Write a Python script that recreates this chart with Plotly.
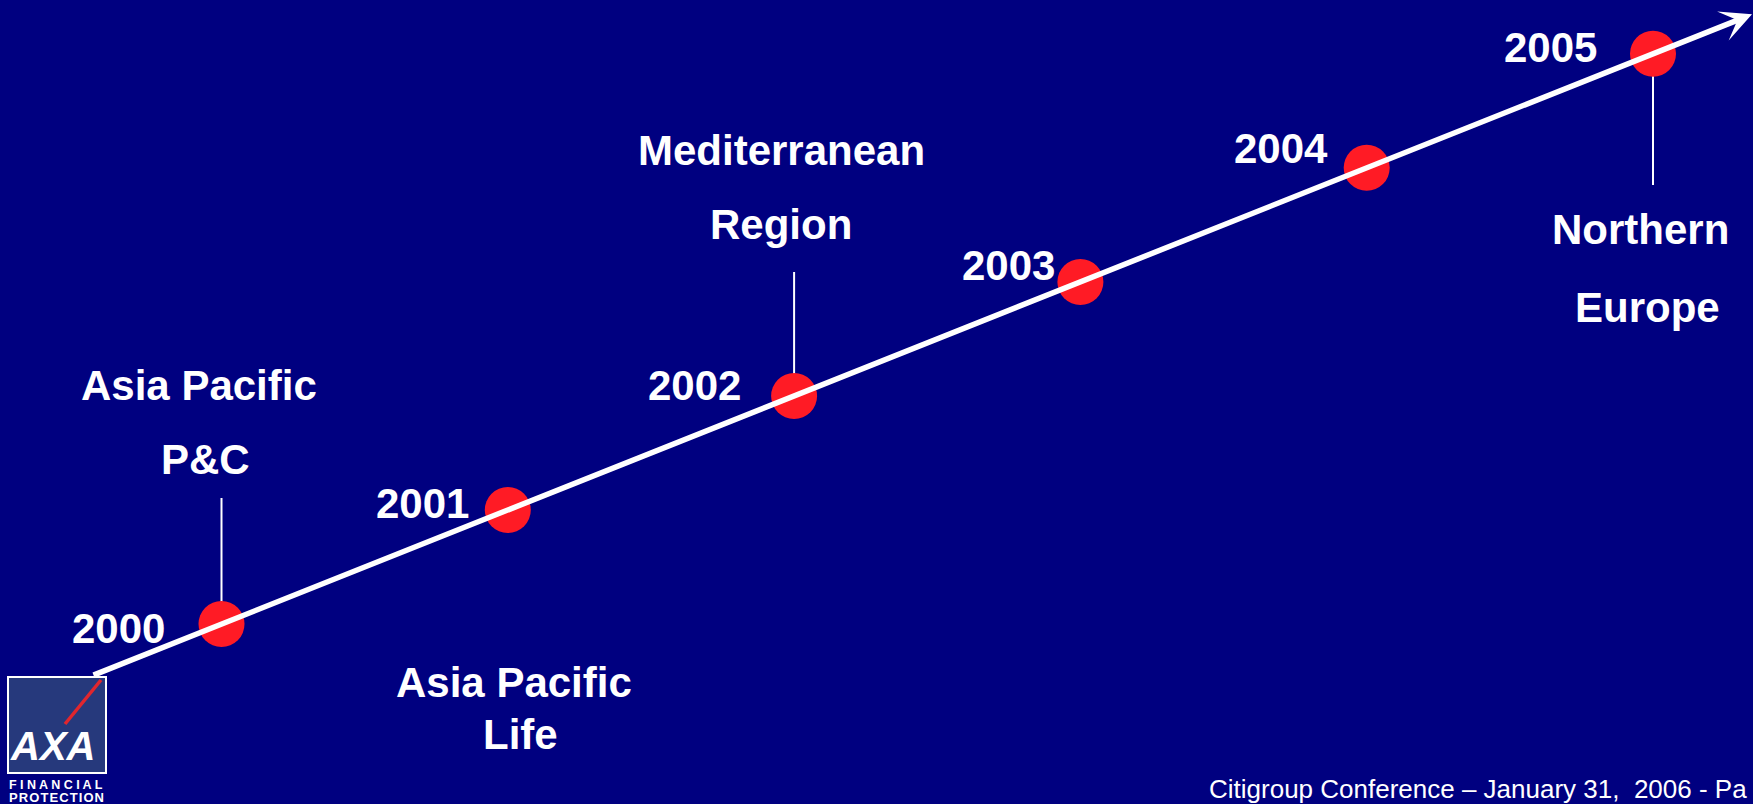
import plotly.graph_objects as go

# ---------------- data ----------------
years = [2000, 2001, 2002, 2003, 2004, 2005]
year_labels = ["2000", "2001", "2002", "2003", "2004", "2005"]

milestone_years = [2000, 2001, 2002, 2005]
milestone_lines = [
    ["Asia Pacific", "P&C"],
    ["Asia Pacific", "Life"],
    ["Mediterranean", "Region"],
    ["Northern", "Europe"],
]

footer_text = "Citigroup Conference \u2013 January 31,  2006 - Pa"

# ---------------- layout constants ----------------
W, H = 1753, 804
BG = "#000080"
RED = "#ff1b25"
FONT = "Liberation Sans, Arial, sans-serif"

X2000, XSTEP = 221.5, 286.3     # pixel of year 2000 and pixels per year (x)
Y2000, YSTEP = 624.1, 114.06    # pixel of year 2000 and pixels per year (y, upward)

xr = [2000 - X2000 / XSTEP, 2000 + (W - X2000) / XSTEP]
yr = [2000 - (H - Y2000) / YSTEP, 2000 + Y2000 / YSTEP]


def dx(px):
    return 2000 + (px - X2000) / XSTEP


def dy(py):
    return 2000 + (Y2000 - py) / YSTEP


def pxp(px):
    return px / W


def pyp(py):
    return 1 - py / H


# year label positions (pixel centres)
year_pos = [(118, 628), (422, 503), (694, 385), (1009, 265), (1281, 149), (1550, 48)]
# milestone text line positions (pixel centres)
milestone_pos = [
    [(199, 385), (205, 459)],
    [(514, 682), (520, 734)],
    [(781, 150), (781, 225)],
    [(1640, 230), (1647, 307)],
]
# connector far ends (pixel y) ; None = no connector
connector_end = [498, None, 272, 185]

fig = go.Figure()

fig.add_trace(go.Scatter(
    x=years, y=years, mode="markers",
    marker=dict(size=46, color=RED, line=dict(width=0)),
    hoverinfo="skip", showlegend=False,
))

annotations = []
shapes = []

# timeline arrow
t_start = dx(92)
t_end = dx(1752)
annotations.append(dict(
    x=t_end, y=t_end, ax=t_start, ay=t_start,
    xref="x", yref="y", axref="x", ayref="y",
    text="", showarrow=True, arrowhead=3, arrowsize=0.95,
    arrowwidth=5.5, arrowcolor="white", standoff=0, startstandoff=0,
))

# year labels
for lab, (px, py) in zip(year_labels, year_pos):
    annotations.append(dict(
        x=pxp(px), y=pyp(py), xref="paper", yref="paper",
        text="<b>%s</b>" % lab, showarrow=False,
        xanchor="center", yanchor="middle",
        font=dict(family=FONT, size=42, color="white"),
    ))

# milestones
for yv, lines, pos, yend in zip(milestone_years, milestone_lines, milestone_pos, connector_end):
    for t, (px, py) in zip(lines, pos):
        annotations.append(dict(
            x=pxp(px), y=pyp(py), xref="paper", yref="paper",
            text="<b>%s</b>" % t, showarrow=False,
            xanchor="center", yanchor="middle",
            font=dict(family=FONT, size=42, color="white"),
        ))
    if yend is not None:
        shapes.append(dict(
            type="line", xref="x", yref="y",
            x0=yv, x1=yv, y0=yv, y1=dy(yend),
            line=dict(color="white", width=2), layer="below",
        ))

# logo
shapes.append(dict(type="rect", xref="paper", yref="paper",
                   x0=pxp(8), x1=pxp(106), y0=pyp(773), y1=pyp(677),
                   fillcolor="#26397c", line=dict(color="white", width=2),
                   layer="below"))
shapes.append(dict(type="line", xref="paper", yref="paper",
                   x0=pxp(101), y0=pyp(680), x1=pxp(65), y1=pyp(724),
                   line=dict(color="#e0262e", width=3.5), layer="below"))
annotations.append(dict(
    x=pxp(52), y=pyp(746), xref="paper", yref="paper",
    text="<b><i>AXA</i></b>", showarrow=False, xanchor="center", yanchor="middle",
    font=dict(family=FONT, size=40, color="white"),
))
annotations.append(dict(
    x=pxp(56), y=pyp(785), xref="paper", yref="paper",
    text="<b>F I N A N C I A L</b>", showarrow=False, xanchor="center", yanchor="middle",
    font=dict(family=FONT, size=12.5, color="white"),
))
annotations.append(dict(
    x=pxp(56), y=pyp(797), xref="paper", yref="paper",
    text="<b>P\u200aR\u200aO\u200aT\u200aE\u200aC\u200aT\u200aI\u200aO\u200aN</b>", showarrow=False,
    xanchor="center", yanchor="middle",
    font=dict(family=FONT, size=13, color="white"),
))

# footer
annotations.append(dict(
    x=pxp(1207), y=pyp(789), xref="paper", yref="paper",
    text=footer_text, showarrow=False, xanchor="left", yanchor="middle",
    font=dict(family=FONT, size=26, color="white"),
))

fig.update_layout(
    width=W, height=H,
    margin=dict(l=0, r=0, t=0, b=0),
    paper_bgcolor=BG, plot_bgcolor=BG,
    xaxis=dict(range=xr, visible=False, fixedrange=True),
    yaxis=dict(range=yr, visible=False, fixedrange=True),
    annotations=annotations, shapes=shapes,
    showlegend=False,
)

fig.write_html("out.html", config={"displayModeBar": False},
               post_script="document.body.style.margin='0';document.body.style.overflow='hidden';")
